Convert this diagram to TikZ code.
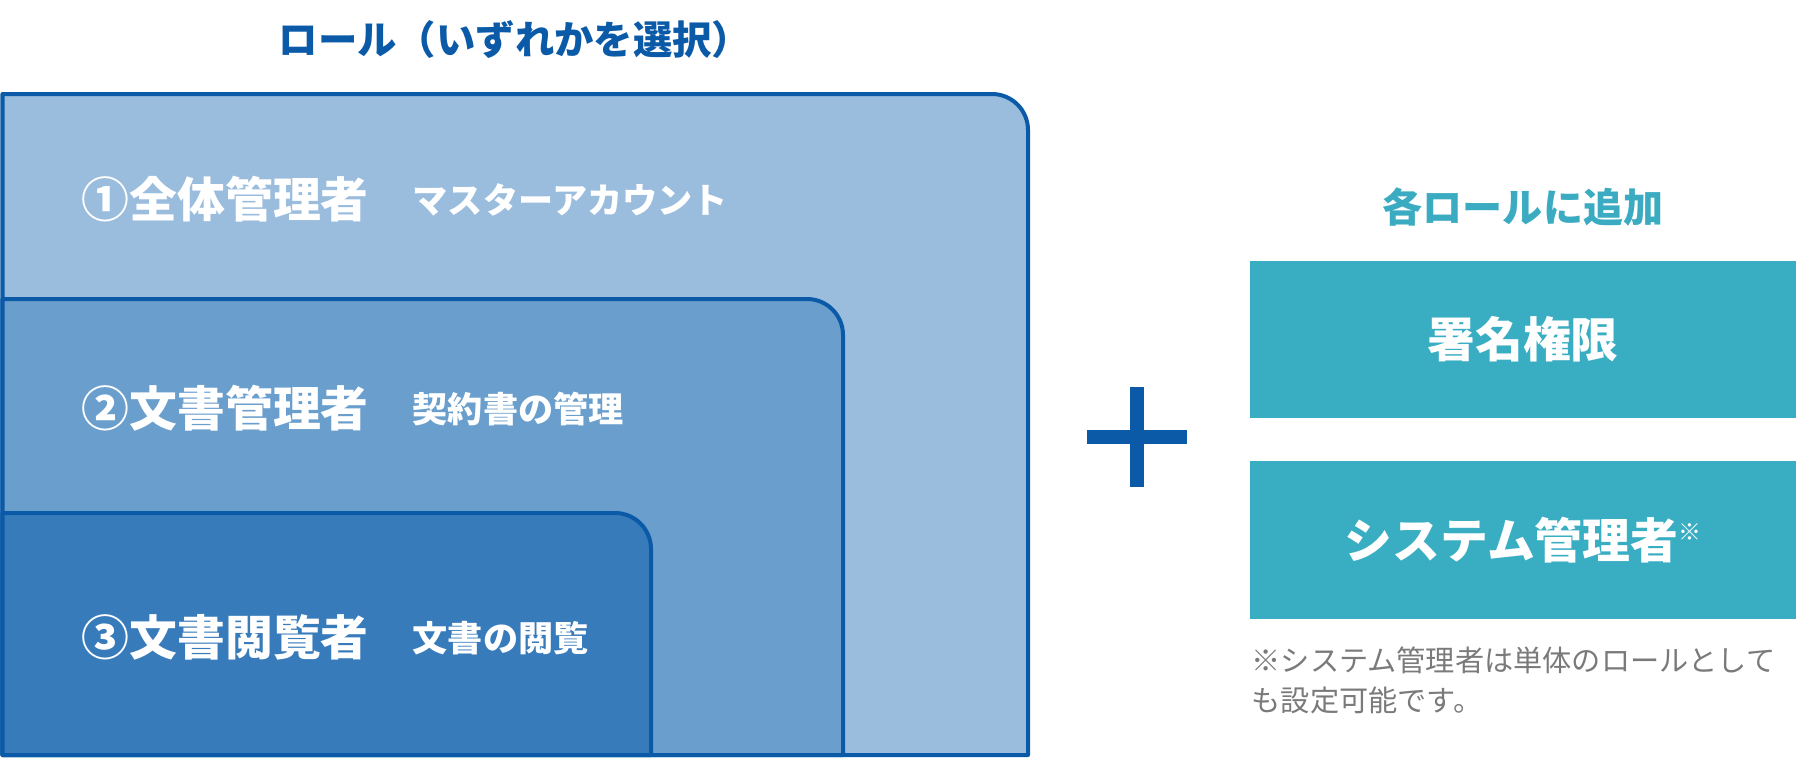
\documentclass[tikz,border=0pt]{standalone}
\usepackage{fontspec}
\setmainfont{Noto Sans CJK JP}
\definecolor{roleblue}{HTML}{0A5AA8}
\definecolor{fillA}{HTML}{9ABCDD}
\definecolor{fillB}{HTML}{6A9ECD}
\definecolor{fillC}{HTML}{377BBB}
\definecolor{addteal}{HTML}{39AEC3}
\definecolor{addtext}{HTML}{3AABC1}
\definecolor{notegray}{HTML}{7A7A7A}

\begin{document}
\begin{tikzpicture}[x=0.01cm,y=-0.01cm,
  rolebox/.style={draw=roleblue,line width=1.14pt,line join=round},
  rolename/.style={anchor=west,inner sep=0pt,text=white,font=\bfseries\fontsize{13.6}{16}\selectfont},
  roledesc/.style={anchor=west,inner sep=0pt,text=white,font=\bfseries\fontsize{10}{12}\selectfont},
  addbox/.style={fill=addteal,text=white,minimum width=5.46cm,minimum height=1.57cm,inner sep=0pt,font=\bfseries\fontsize{13.6}{16}\selectfont}]
\useasboundingbox (0,0) rectangle (1800,757);
% roles
\node (roletitle) at (278,40) [anchor=west,inner sep=0pt,text=roleblue,font=\bfseries\fontsize{11.2}{14}\selectfont] {ロール（いずれかを選択）};
\draw [rolebox,fill=fillA] (2.5,755) -- (2.5,94) -- (992,94) arc[start angle=-90,end angle=0,radius=36] -- (1028,755) -- cycle;
\draw [rolebox,fill=fillB] (2.5,755) -- (2.5,299) -- (807,299) arc[start angle=-90,end angle=0,radius=36] -- (843,755) -- cycle;
\draw [rolebox,fill=fillC] (2.5,755) -- (2.5,513) -- (615,513) arc[start angle=-90,end angle=0,radius=36] -- (651,755) -- cycle;
\node (full)    at (81,199)  [rolename] {①全体管理者};
\node (fullsub) at (412,200) [roledesc] {マスターアカウント};
\node (doc)     at (81,408)  [rolename] {②文書管理者};
\node (docsub)  at (412,409) [roledesc] {契約書の管理};
\node (view)    at (81,637)  [rolename] {③文書閲覧者};
\node (viewsub) at (412,638) [roledesc] {文書の閲覧};
% plus
\fill [roleblue] (1087,430) rectangle (1187,444);
\fill [roleblue] (1130,387) rectangle (1144,487);
% additions
\node (addtitle) at (1523,207) [text=addtext,font=\bfseries\fontsize{11.4}{14}\selectfont] {各ロールに追加};
\node (sign)     at (1523,339.5) [addbox] {署名権限};
\node (sysadmin) at (1523,540) [addbox] {システム管理者\raisebox{0.38em}{\fontsize{6.5}{7}\selectfont ※}};
\node (note) at (1251,680) [anchor=west,align=left,inner sep=0pt,text=notegray,font=\fontsize{8.3}{11.4}\selectfont] {※システム管理者は単体のロールとして\\も設定可能です。};
\end{tikzpicture}
\end{document}
